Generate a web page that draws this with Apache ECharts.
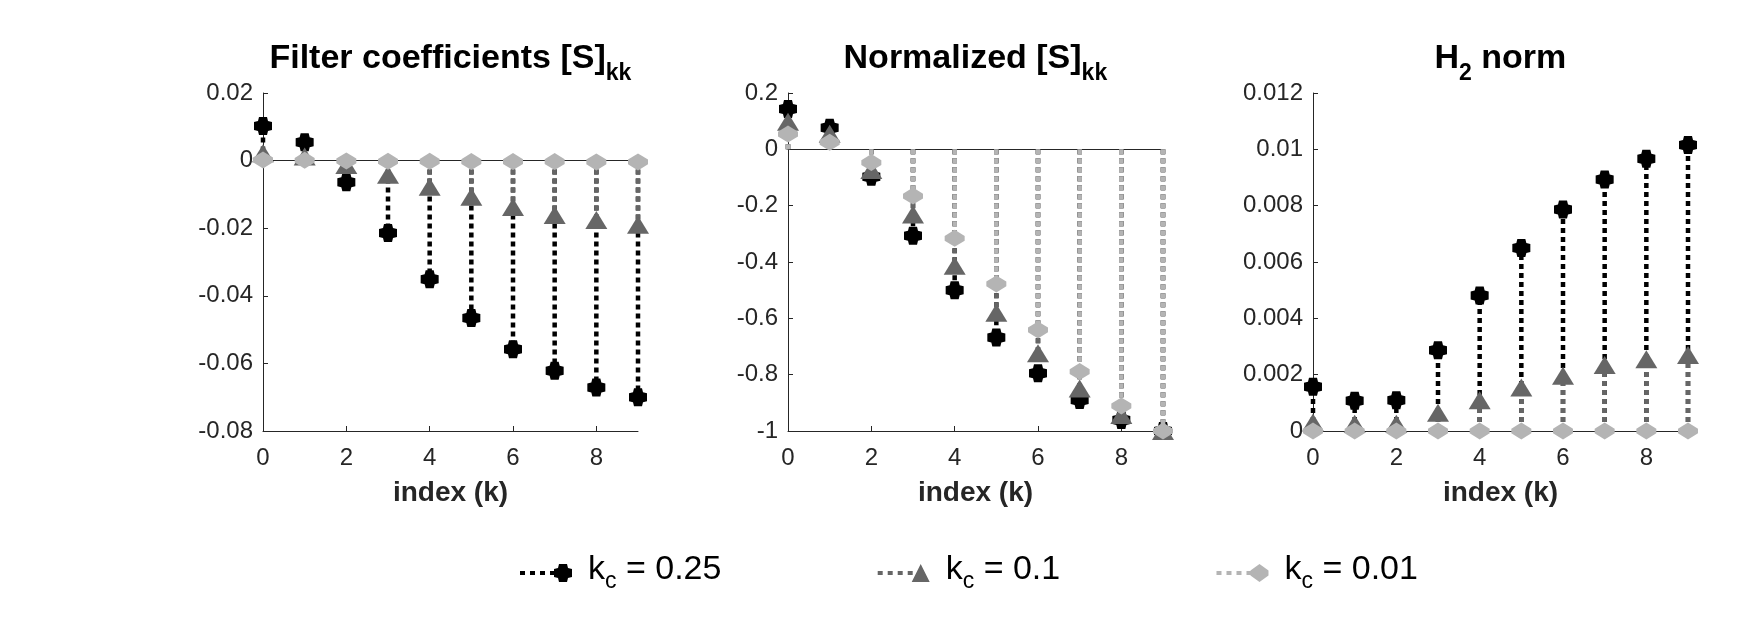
<!DOCTYPE html>
<html>
<head>
<meta charset="utf-8">
<script src="https://cdn.jsdelivr.net/npm/echarts@6.0.0/dist/echarts.min.js"></script>
<style>
	html, body { margin: 0; padding: 0; background: #fff; }
	#chart { width: 1763px; height: 638px; }
</style>
</head>
<body>
<div id="chart"></div>
<script>
// index k on every panel
var kIndex = [0, 1, 2, 3, 4, 5, 6, 7, 8, 9];
var xTickValues = [0, 2, 4, 6, 8];

// Filter coefficients [S]kk
var coefKc025 = [0.0102, 0.0054, -0.0064, -0.0214, -0.0351, -0.0466, -0.0558, -0.0622, -0.0671, -0.0700];
var coefKc01 = [0.0022, 0.0012, -0.0013, -0.0042, -0.0077, -0.0107, -0.0137, -0.0161, -0.0176, -0.0190];
var coefKc001 = [0.0002, 0.0001, -0.0001, -0.0002, -0.0002, -0.0003, -0.0003, -0.0003, -0.0004, -0.0004];
var coefTicks = [-0.08, 0.02, 0.02];

// Normalized [S]kk
var normKc025 = [0.143, 0.077, -0.097, -0.307, -0.500, -0.668, -0.795, -0.890, -0.961, -1];
var normKc01 = [0.098, 0.055, -0.073, -0.231, -0.413, -0.580, -0.724, -0.849, -0.943, -1];
var normKc001 = [0.054, 0.025, -0.047, -0.166, -0.316, -0.478, -0.641, -0.789, -0.911, -1];
var normTicks = [-1, 0.2, 0.2];

// H2 norm
var h2Kc025 = [0.00157, 0.00107, 0.00109, 0.00287, 0.00481, 0.0065, 0.00786, 0.00893, 0.00967, 0.01015];
var h2Kc01 = [0.0003, 0.00026, 0.00026, 0.00065, 0.00109, 0.00154, 0.00196, 0.00234, 0.00255, 0.0027];
var h2Kc001 = [0, 0, 0, 0, 0, 0, 0, 0, 0, 0];
var h2Ticks = [0, 0.012, 0.002];

var seriesNames = ['k_c = 0.25', 'k_c = 0.1', 'k_c = 0.01'];

var FONT = 'Liberation Sans, Helvetica, Arial, sans-serif';
var AXIS_COLOR = '#262626';

// marker shapes
var plusPath = 'path://M-4,-9L4,-9L5,-5L9,-4L9,4L5,5L4,9L-4,9L-5,5L-9,4L-9,-4L-5,-5Z';
var hexPath = 'path://M0,-9L9,-2.5L9,2.5L0,9L-9,2.5L-9,-2.5Z';
var dashIcon = 'M0,8h5v4h-5zM10,8h5v4h-5zM20,8h5v4h-5zM30,8h5v4h-5z';

var styles = [
	{ color: '#000000', symbol: plusPath, size: 18,
		icon: 'path://' + dashIcon + 'M39,1L47,1L48,5L52,6L52,14L48,15L47,19L39,19L38,15L34,14L34,6L38,5Z' },
	{ color: '#666666', symbol: 'triangle', size: [22, 18],
		icon: 'path://' + dashIcon + 'M34,19L43,1L52,19Z' },
	{ color: '#b4b4b4', symbol: hexPath, size: [20, 17],
		icon: 'path://' + dashIcon + 'M43,1L52,7.5L52,12.5L43,19L34,12.5L34,7.5Z' }
];

// {z| } is an invisible strut that makes the line tall enough to drop the subscript
var panels = [
	{ title: '{b|Filter coefficients [S]}{s|kk}{z| }', left: 263, ticks: coefTicks, data: [coefKc025, coefKc01, coefKc001] },
	{ title: '{b|Normalized [S]}{s|kk}{z| }', left: 788, ticks: normTicks, data: [normKc025, normKc01, normKc001] },
	{ title: '{b|H}{s|2}{b| norm}{z| }', left: 1313, ticks: h2Ticks, data: [h2Kc025, h2Kc01, h2Kc001] }
];

var GRID_W = 375, GRID_TOP = 93, GRID_H = 338;

function toPoints(values) {
	return kIndex.map(function (k, i) { return [k, values[i]]; });
}

function stemRenderer(color) {
	return function (params, api) {
		var tip = api.coord([api.value(0), api.value(1)]);
		var base = api.coord([api.value(0), 0]);
		return {
			type: 'line',
			shape: { x1: base[0], y1: base[1], x2: tip[0], y2: tip[1] },
			style: { stroke: color, lineWidth: 4.5, lineDash: [5, 4] }
		};
	};
}

function fmtTick(v) {
	return String(+v.toFixed(4));
}

var titleRich = {
	b: { fontFamily: FONT, fontSize: 34, fontWeight: 'bold', color: '#000', lineHeight: 40, verticalAlign: 'top' },
	s: { fontFamily: FONT, fontSize: 23, fontWeight: 'bold', color: '#000', lineHeight: 26, verticalAlign: 'bottom' },
	z: { fontSize: 1, lineHeight: 43 }
};

var grids = [], xAxes = [], yAxes = [], titles = [], series = [];

panels.forEach(function (p, g) {
	grids.push({ left: p.left, top: GRID_TOP, width: GRID_W, height: GRID_H });
	titles.push({
		text: p.title,
		left: p.left + GRID_W / 2,
		top: 42,
		textAlign: 'center',
		padding: 0,
		textStyle: { rich: titleRich }
	});
	// bottom axis with ticks and labels
	xAxes.push({
		gridIndex: g, type: 'value', min: 0, max: 9, position: 'bottom',
		name: 'index (k)', nameLocation: 'middle', nameGap: 48,
		nameTextStyle: { fontFamily: FONT, fontSize: 28, fontWeight: 'bold', color: AXIS_COLOR },
		axisLine: { show: true, onZero: false, lineStyle: { color: AXIS_COLOR, width: 1 } },
		axisTick: { show: true, inside: true, length: 5, customValues: xTickValues, lineStyle: { color: AXIS_COLOR } },
		axisLabel: { customValues: xTickValues, margin: 15, fontFamily: FONT, fontSize: 24, color: AXIS_COLOR },
		splitLine: { show: false }
	});
	// stem baseline at y = 0
	xAxes.push({
		gridIndex: g, type: 'value', min: 0, max: 9, position: 'top',
		axisLine: { show: true, onZero: true, lineStyle: { color: AXIS_COLOR, width: 1 } },
		axisTick: { show: false }, axisLabel: { show: false }, splitLine: { show: false }
	});
	yAxes.push({
		gridIndex: g, type: 'value', min: p.ticks[0], max: p.ticks[1], interval: p.ticks[2],
		axisLine: { show: true, onZero: false, lineStyle: { color: AXIS_COLOR, width: 1 } },
		axisTick: { show: true, inside: true, length: 5, lineStyle: { color: AXIS_COLOR } },
		axisLabel: { margin: 10, fontFamily: FONT, fontSize: 24, color: AXIS_COLOR, formatter: fmtTick, showMinLabel: true, showMaxLabel: true },
		splitLine: { show: false }
	});
	p.data.forEach(function (values, s) {
		var st = styles[s];
		series.push({
			name: seriesNames[s], type: 'scatter', xAxisIndex: g * 2, yAxisIndex: g,
			symbol: st.symbol, symbolSize: st.size, clip: false, z: 3 + s * 2,
			itemStyle: { color: st.color, borderWidth: 0, opacity: 1 },
			emphasis: { disabled: true },
			data: toPoints(values)
		});
		series.push({
			name: seriesNames[s], type: 'custom', xAxisIndex: g * 2, yAxisIndex: g,
			z: 2 + s * 2, silent: true,
			itemStyle: { color: st.color },
			encode: { x: 0, y: 1 },
			renderItem: stemRenderer(st.color),
			data: toPoints(values)
		});
	});
});

var chart = echarts.init(document.getElementById('chart'), null, { renderer: 'canvas' });
chart.setOption({
	animation: false,
	backgroundColor: '#ffffff',
	title: titles,
	grid: grids,
	xAxis: xAxes,
	yAxis: yAxes,
	legend: {
		left: 515, top: 548,
		orient: 'horizontal',
		itemWidth: 52, itemHeight: 18, itemGap: 156,
		selectedMode: false,
		itemStyle: { borderWidth: 0 },
		data: seriesNames.map(function (n, i) { return { name: n, icon: styles[i].icon }; }),
		formatter: function (name) {
			return '{k|k}{c|c}{k| = ' + name.split('= ')[1] + '}{z| }';
		},
		textStyle: {
			padding: [0, 0, 0, 11],
			rich: {
				k: { fontFamily: FONT, fontSize: 34, color: '#000', lineHeight: 36, verticalAlign: 'top' },
				c: { fontFamily: FONT, fontSize: 23, color: '#000', lineHeight: 24, verticalAlign: 'bottom' },
				z: { fontSize: 1, lineHeight: 40 }
			}
		}
	},
	series: series
});
</script>
</body>
</html>
